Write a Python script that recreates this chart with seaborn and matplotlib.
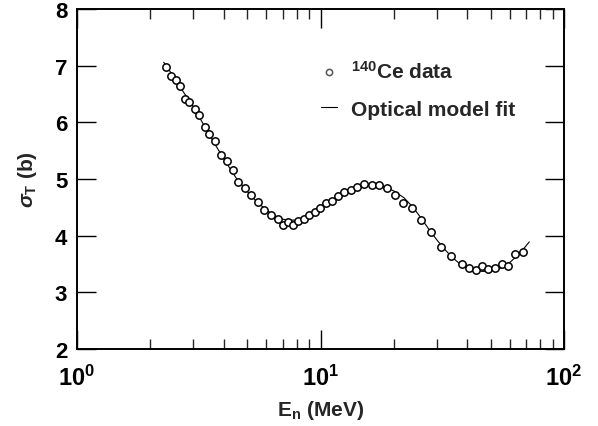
import matplotlib
matplotlib.use("Agg")
import matplotlib.pyplot as plt
import seaborn as sns
import pandas as pd
import numpy as np
from matplotlib.ticker import LogLocator, FixedLocator, NullFormatter, FixedFormatter

# ---- data ----
data_E = [2.32, 2.43, 2.55, 2.64, 2.77, 2.88, 3.04, 3.16, 3.35, 3.48, 3.68, 3.89,
          4.12, 4.36, 4.57, 4.88, 5.17, 5.52, 5.84, 6.24, 6.66, 6.99, 7.32, 7.68,
          8.05, 8.52, 8.93, 9.45, 9.91, 10.58, 11.20, 11.85, 12.54, 13.40, 14.18,
          15.15, 16.34, 17.45, 18.82, 20.29, 21.88, 23.83, 25.94, 28.50, 31.33,
          34.43, 38.20, 40.80, 43.60, 46.13, 48.82, 52.15, 55.70, 58.96, 63.0, 67.9]
data_sigma = [6.98, 6.82, 6.75, 6.64, 6.41, 6.36, 6.24, 6.13, 5.92, 5.79, 5.67, 5.42,
              5.32, 5.16, 4.95, 4.84, 4.72, 4.59, 4.45, 4.36, 4.29, 4.19, 4.24, 4.19,
              4.26, 4.29, 4.36, 4.42, 4.49, 4.58, 4.61, 4.70, 4.77, 4.81, 4.86,
              4.91, 4.89, 4.89, 4.84, 4.72, 4.58, 4.49, 4.28, 4.06, 3.80,
              3.64, 3.50, 3.43, 3.39, 3.47, 3.41, 3.43, 3.50, 3.47, 3.68, 3.71]

fit_E = [2.27, 2.5, 2.75, 3.0, 3.25, 3.5, 3.75, 4.0, 4.5, 5.0, 5.5, 6.0, 6.5, 7.0,
         7.5, 8.0, 9.0, 10, 11, 12, 13, 14, 15, 16, 17, 18, 19, 20, 22, 24, 26, 28,
         30, 32, 34, 36, 38, 40, 43, 46, 49, 52, 56, 60, 64, 68, 72]
fit_sigma = [7.06, 6.80, 6.52, 6.28, 6.02, 5.78, 5.56, 5.36, 5.02, 4.78, 4.59, 4.45,
             4.35, 4.29, 4.27, 4.28, 4.37, 4.49, 4.61, 4.71, 4.80, 4.86, 4.89, 4.90,
             4.89, 4.87, 4.83, 4.79, 4.67, 4.50, 4.30, 4.10, 3.93, 3.78, 3.66, 3.56,
             3.48, 3.43, 3.39, 3.37, 3.37, 3.39, 3.44, 3.53, 3.64, 3.76, 3.89]

y_ticks = [2, 3, 4, 5, 6, 7, 8]
x_ticks = [1, 10, 100]
x_tick_labels = [r"$\mathbf{10^{0}}$", r"$\mathbf{10^{1}}$", r"$\mathbf{10^{2}}$"]

label_data = r"$\mathbf{^{140}}$Ce data"
label_fit = "Optical model fit"

# ---- style ----
sns.set_style("ticks")
plt.rcParams["font.family"] = ["Liberation Sans", "DejaVu Sans"]
plt.rcParams["font.weight"] = "bold"
plt.rcParams["mathtext.fontset"] = "custom"
plt.rcParams["mathtext.rm"] = "Liberation Sans:bold"
plt.rcParams["mathtext.bf"] = "Liberation Sans:bold"
plt.rcParams["mathtext.it"] = "Liberation Sans:italic"
plt.rcParams["mathtext.sf"] = "Liberation Sans:bold"

fig = plt.figure(figsize=(5.98, 4.27), dpi=100)
ax = fig.add_axes([77 / 598, 1 - 350 / 427, 487 / 598, 340 / 427])

df_pts = pd.DataFrame({"E": data_E, "sigma": data_sigma})
df_fit = pd.DataFrame({"E": fit_E, "sigma": fit_sigma})

sns.lineplot(data=df_fit, x="E", y="sigma", ax=ax, color="black", linewidth=0.8,
             estimator=None, sort=True, label=label_fit, zorder=2)
sns.scatterplot(data=df_pts, x="E", y="sigma", ax=ax, marker="o", s=28,
                facecolor="white", edgecolor="black", linewidth=1.1,
                label=label_data, zorder=3)

ax.set_xscale("log")
ax.set_xlim(1, 100)
ax.set_ylim(2, 8)

ax.xaxis.set_major_locator(FixedLocator(x_ticks))
ax.xaxis.set_major_formatter(FixedFormatter(x_tick_labels))
ax.xaxis.set_minor_locator(LogLocator(base=10, subs=np.arange(2, 10)))
ax.xaxis.set_minor_formatter(NullFormatter())
ax.set_yticks(y_ticks)
ax.set_yticklabels([str(v) for v in y_ticks])

for side in ["top", "right", "bottom", "left"]:
    ax.spines[side].set_visible(True)
    ax.spines[side].set_linewidth(1.4)
    ax.spines[side].set_color("black")

ax.tick_params(axis="both", which="major", direction="in", length=14, width=1.0,
               top=True, right=True, colors="black")
ax.tick_params(axis="y", which="major", labelsize=16, pad=7)
ax.tick_params(axis="x", which="major", labelsize=17, pad=11)
ax.tick_params(axis="x", which="minor", direction="in", length=7, width=1.0,
               top=True, bottom=True)
ax.tick_params(axis="y", which="minor", left=False, right=False)

ax.set_xlabel(r"E$_\mathbf{n}$ (MeV)", fontsize=15, fontweight="bold", labelpad=6)
ax.set_ylabel(r"$\mathit{\sigma}_\mathbf{T}$ (b)", fontsize=15, fontweight="bold",
              labelpad=11)

# legend: data first, then fit
handles, labels = ax.get_legend_handles_labels()
order = [labels.index(label_data), labels.index(label_fit)]
leg = ax.legend([handles[i] for i in order], [labels[i] for i in order],
                loc="upper left", bbox_to_anchor=(0.462, 0.905), frameon=False,
                fontsize=15, handlelength=0.8, handletextpad=0.65,
                labelspacing=0.85, markerscale=0.85)
for h in leg.legend_handles:
    try:
        h.set_edgecolor("#555555")
    except Exception:
        pass

fig.savefig("out.png", dpi=100)
